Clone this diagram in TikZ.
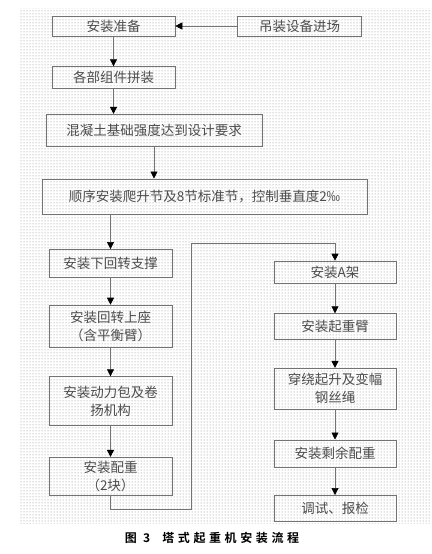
\documentclass[tikz,border=0pt]{standalone}
\usepackage{fontspec}
\newfontfamily\cjk{Noto Sans CJK SC}
\newfontfamily\cjkcap[LetterSpace=30]{Noto Sans CJK SC Bold}
\usetikzlibrary{arrows.meta,positioning,patterns}

\begin{document}
\begin{tikzpicture}[x=1pt,y=1pt,node distance=30pt,
  every node/.style={font=\cjk\fontsize{13.5}{18}\selectfont},
  box/.style={draw=black!55,line width=.6pt,inner sep=2pt,align=center,
    text=black!70,minimum width=123pt},
  flow/.style={draw=black!55,line width=.6pt,-{Triangle[width=7pt,length=7pt,black]}}]
  \useasboundingbox (0,0) rectangle (431,-554);
  \fill[pattern=dots,pattern color=black!50] (20,-8) rectangle (430,-523);
  % main line
  \node[box,minimum height=20pt] (zb) at (113.5,-26) {安装准备};
  \node[box,minimum height=20pt,minimum width=124pt,right=62pt of zb] (jc) {吊装设备进场};
  \node[box,minimum height=22pt,below=30pt of zb] (pz) {各部组件拼装};
  \node[box,minimum height=32pt,minimum width=216pt,below=25pt of pz,xshift=40.5pt] (hnt) {混凝土基础强度达到设计要求};
  \node[box,minimum height=35pt,minimum width=325pt,below=32pt of hnt,xshift=50.5pt] (sx) {顺序安装爬升节及8节标准节，控制垂直度2‰};
  % left column
  \node[box,minimum height=28pt,below=35pt of sx,xshift=-94pt] (xhz) {安装下回转支撑};
  \node[box,minimum height=42pt,below=27pt of xhz] (hzs) {安装回转上座\\（含平衡臂）};
  \node[box,minimum height=49pt,below=29pt of hzs] (dlb) {安装动力包及卷\\扬机构};
  \node[box,minimum height=38pt,below=31pt of dlb] (phz) {安装配重\\（2块）};
  % right column
  \node[box,minimum height=22pt,minimum width=122pt] (aj) at (335,-272) {安装A架};
  \node[box,minimum height=26pt,minimum width=122pt,below=30pt of aj] (qzb) {安装起重臂};
  \node[box,minimum height=41pt,minimum width=122pt,below=28pt of qzb] (cr) {穿绕起升及变幅\\钢丝绳};
  \node[box,minimum height=27pt,minimum width=122pt,below=30pt of cr] (sy) {安装剩余配重};
  \node[box,minimum height=26pt,minimum width=122pt,below=28pt of sy] (ts) {调试、报检};
  \coordinate (d1) at (191,-509);
  \coordinate (d2) at (191,-243);
  \node[font=\cjkcap\fontsize{12}{14}\selectfont] (cap) at (212,-538) {图 3\quad 塔式起重机安装流程};

  \draw[flow] (jc) -- (zb);
  \draw[flow] (zb) -- (pz);
  \draw[flow] (pz.south) -- (pz.south |- hnt.north);
  \draw[flow] (hnt) -- (hnt |- sx.north);
  \draw[flow] (xhz |- sx.south) -- (xhz);
  \draw[flow] (xhz) -- (hzs);
  \draw[flow] (hzs) -- (dlb);
  \draw[flow] (dlb) -- (phz);
  \draw[flow] (phz.south) |- (d1) -- (d2) -| (aj.north);
  \draw[flow] (aj) -- (qzb);
  \draw[flow] (qzb) -- (cr);
  \draw[flow] (cr) -- (sy);
  \draw[flow] (sy) -- (ts);
\end{tikzpicture}
\end{document}
